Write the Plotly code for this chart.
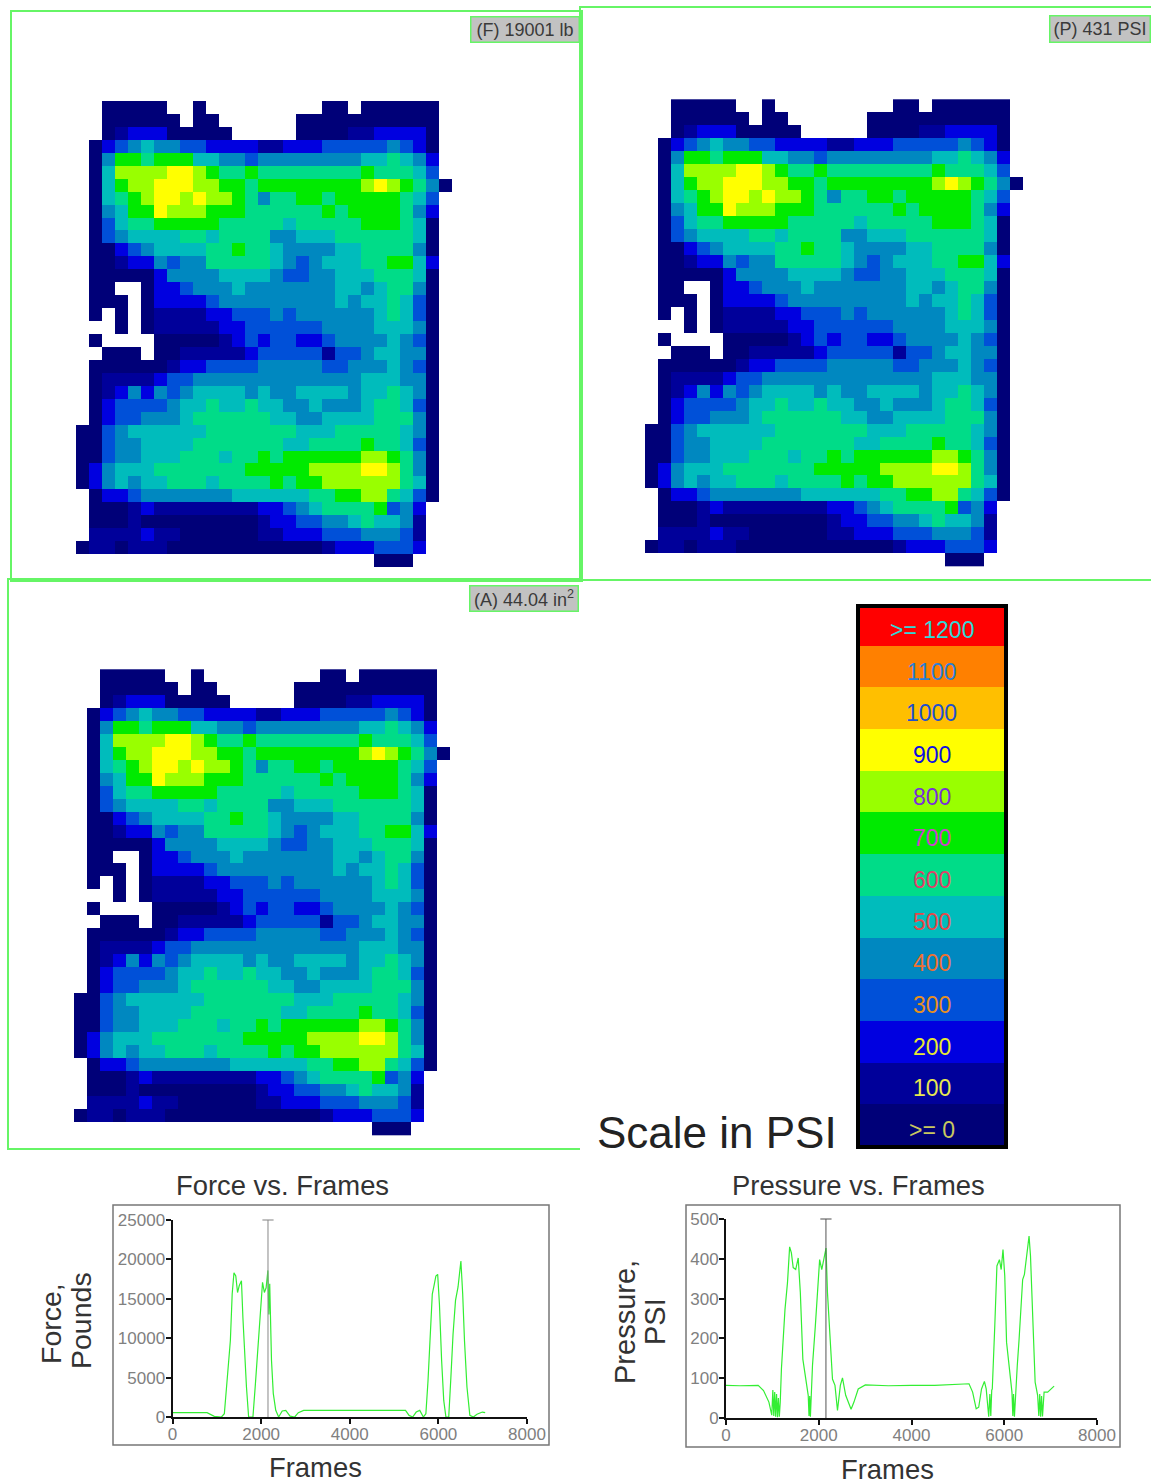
import plotly.graph_objects as go

W, H = 1151, 1484

# ---------- data ----------
# pressure map: one character per sensel, the digit is the scale band, "." is unloaded
pressure_rows = [
    "..00000..0.........00.000000.",
    "..000000.00......00000000000.",
    "..012220" "0000" "....." "0000" "11" "2222" "0.",
    ".0" "2" "3" "4" "5" "44" "33" "2222" "11" "222" "33333" "4" "3" "2" "0" ".",
    ".0" "4" "77" "6" "777" "55" "44" "3" "44444444" "55" "6" "5" "4" "2" ".",
    ".0" "5" "8888" "99" "8" "7" "66" "7" "66666666" "7" "666" "5" "3" ".",
    ".0" "5" "7" "88" "999" "88" "77" "6" "77777777" "8" "9" "8" "7" "6" "4" "0",
    ".0" "5" "6" "7" "8" "99" "8" "9" "88" "7" "6" "4" "66" "77" "6" "77777" "6" "5" "3" ".",
    ".0" "4" "5" "77" "9" "888" "777" "666666" "7" "6" "7777" "6" "4" "2" ".",
    ".0" "3" "5" "66" "77777" "66666" "5" "66666" "777" "6" "5" "0" ".",
    ".0" "3" "4" "5555" "66" "5" "6666" "44" "555" "666666" "5" "0" ".",
    ".00" "2" "3" "4" "5555" "66" "7" "66" "5" "4" "444" "55" "6666" "4" "0" ".",
    ".00" "1" "22" "4" "3" "44" "66666" "5" "4" "3" "4" "555" "66" "77" "5" "2" ".",
    ".00000" "2" "4444" "5555" "4" "33" "44" "555" "666" "5" "0" ".",
    ".00" ".." "0" "22" "3" "444" "5" "4444444" "55" "4" "5" "66" "4" "0" ".",
    ".000" "." "0" "2222" "3" "444444444" "5" "4" "55" "6" "5" "3" "0" ".",
    ".0" "." "0" "." "0" "1111" "22" "333" "4" "3" "444444" "5" "6" "5" "3" "0" ".",
    "..." "0" "." "0" "11111" "22" "333333" "4444" "555" "4" "0" ".",
    ".0" "...." "00000" "1" "2" "3" "2" "33" "22" "3" "4444" "5" "4" "3" "0" ".",
    ".." "000" "." "00" "11111" "2" "33333" "1" "33" "4" "55" "44" "0" ".",
    ".000000" "1" "22" "3333" "44444" "33" "444" "5" "4" "3" "0" ".",
    ".0" "1111" "2" "33" "4444444444444" "555" "44" "0" ".",
    ".0" "1" "2" "4" "2" "4" "3" "4" "5555" "4" "5" "44" "5555" "4" "55" "6" "5" "4" "0" ".",
    ".0" "2" "3333" "4" "55" "6" "55" "6" "55" "44" "5" "444" "5" "66" "5" "3" "0" ".",
    ".0" "2" "33" "444" "5" "666666" "55" "44" "5555" "666" "4" "0" ".",
    "00" "3" "4" "555555" "6666666" "555" "66666" "5" "4" "0" ".",
    "00" "3" "44" "5555" "6666666" "55" "6666" "7" "66" "5" "3" "0" ".",
    "00" "3" "44" "555" "666" "5" "66" "7" "6" "777777" "88" "7" "6" "4" "0" ".",
    "0" "2" "4" "555" "6666666" "77777" "8888" "99" "8" "6" "4" "0" ".",
    "0" "2" "4" "5" "4" "55" "666" "5" "6666" "7" "6" "77" "888888" "6" "5" "0" ".",
    ".0" "22" "3" "4444444" "555555" "66" "77" "88" "6" "5" "3" "0" ".",
    ".000" "1" "2" "11111111" "22" "3" "4" "5" "6666" "7" "3" "4" "2" "..",
    ".000" "1" "000000000" "1" "22" "33" "44" "5" "6" "55" "4" "1" "..",
    ".111" "1" "2" "11" "000000" "11" "222" "333" "444" "3" "1" "..",
    "0" "11" "0" "111" "000000000000" "1" "222" "333" "2" "..",
    "......................." "000" "...",
]

scale_labels = [">= 0", "100", "200", "300", "400", "500", "600", "700",
                "800", "900", "1000", "1100", ">= 1200"]
scale_colors = ["#000078", "#00009a", "#0000e0", "#0050d8", "#0088c0", "#00bcbc",
                "#00dc88", "#00ea00", "#99ff00", "#ffff00", "#ffbf00", "#ff8000", "#ff0000"]
scale_label_colors = ["#c8c860", "#e8e850", "#e8e830", "#e89020", "#f07030", "#e84848",
                      "#e0406a", "#d040d0", "#7a30d8", "#1010e0", "#2050d0", "#2a7fd8", "#30d8d8"]

force_frames = [0, 300, 780, 943, 1105, 1170, 1225, 1306, 1347, 1387, 1428, 1468, 1508, 1556,
                1589, 1629, 1669, 1718, 1815, 1871, 1928, 1992, 2032, 2073, 2113, 2153, 2175,
                2194, 2234, 2274, 2330, 2395, 2476, 2556, 2653, 2758, 2839, 2960, 4000, 5258,
                5339, 5420, 5500, 5580, 5661, 5718, 5766, 5823, 5863, 5903, 5944, 5984, 6024,
                6073, 6121, 6170, 6234, 6282, 6331, 6387, 6444, 6508, 6549, 6589, 6645, 6710,
                6790, 6871, 6992, 7056]
force_pounds = [550, 560, 550, 85, 0, 420, 3800, 9700, 15600, 18300, 17900, 15800, 16700, 17300,
                12600, 7600, 3800, 0, 0, 4200, 8900, 15200, 17100, 15800, 16400, 18600, 13000,
                16900, 7200, 3000, 850, 0, 760, 840, 100, 0, 550, 840, 840, 840,
                200, 0, 630, 840, 0, 420, 4600, 11400, 15600, 16700, 17900, 18100, 14300,
                7200, 2100, 0, 0, 5000, 10500, 14800, 16500, 19800, 15600, 9700, 3800, 200,
                0, 340, 630, 550]

pressure_frames = [0, 300, 694, 809, 925, 987, 1010, 1030, 1050, 1070, 1090, 1110, 1130, 1150, 1170,
                   1195, 1272, 1326, 1372, 1410, 1449, 1503, 1557, 1603, 1657, 1734, 1773, 1790,
                   1805, 1820, 1835, 1865, 1927, 1989, 2019, 2065, 2111, 2157, 2188, 2234, 2296,
                   2350, 2404, 2466, 2512, 2581, 2697, 2759, 2851, 3005, 3500, 4000, 4500, 5240,
                   5318, 5395, 5449, 5510, 5572, 5611, 5665, 5690, 5710, 5730, 5742, 5796, 5842,
                   5896, 5934, 5973, 6011, 6050, 6127, 6166, 6185, 6200, 6220, 6240, 6281, 6320,
                   6397, 6435, 6489, 6535, 6566, 6612, 6666, 6720, 6745, 6765, 6785, 6805, 6825,
                   6859, 6936, 7075]
pressure_psi = [82, 81, 82, 69, 40, 7, 70, 5, 65, 3, 60, 2, 50, 3, 40,
                123, 273, 340, 430, 415, 378, 373, 402, 315, 148, 82, 57, 5,
                55, 3, 50, 132, 232, 357, 398, 373, 402, 427, 315, 232, 98,
                82, 19, 82, 101, 57, 22, 40, 73, 83, 81, 82, 82, 86,
                65, 23, 27, 73, 92, 73, 3, 60, 5, 70, 73, 232, 382,
                398, 373, 423, 357, 190, 98, 65, 5, 60, 3, 55, 132, 198,
                348, 361, 407, 457, 407, 257, 90, 57, 5, 60, 3, 55, 4,
                65, 65, 80]

cursor_frame = 2155
force_ticks = [0, 5000, 10000, 15000, 20000, 25000]
pressure_ticks = [0, 100, 200, 300, 400, 500]
frame_ticks = [0, 2000, 4000, 6000, 8000]

# ---------- helpers ----------
def px(x):
    return x / W

def py(y):
    return 1 - y / H

def dom_x(a, b):
    return [px(a), px(b)]

def dom_y(top, bottom):
    return [py(bottom), py(top)]

levels = [[(None if c == "." else int(c)) for c in row] for row in pressure_rows]
n = len(scale_colors)
colorscale = []
for i, c in enumerate(scale_colors):
    colorscale += [[i / n, c], [(i + 1) / n, c]]

TEXT = "Liberation Sans"
GREEN = "#66f566"
fig = go.Figure()
annotations = []

# (frame left, right, top, bottom, cell origin x, y, cell w, h)
panels = [
    (12, 581, 12, 580, 76, 101, 12.96, 12.94),
    (581, 1151, 8, 579, 645, 99.3, 13.03, 12.98),
    (9, 580, 580, 1148, 74, 669.3, 12.96, 12.94),
]
for i, (l, r, t, b, ox, oy, cw, ch) in enumerate(panels):
    name = str(i + 1) if i else ""
    fig.add_trace(go.Heatmap(z=levels, colorscale=colorscale, zmin=-0.5, zmax=n - 0.5,
                             showscale=False, xaxis="x" + name, yaxis="y" + name,
                             hoverongaps=False))
    fig.layout["xaxis" + name] = dict(
        domain=dom_x(l, r), range=[(l - ox) / cw - 0.5, (r - ox) / cw - 0.5], automargin=False,
        showgrid=False, zeroline=False, showticklabels=False, ticks="",
        showline=True, linecolor=GREEN, linewidth=1.5, mirror=True, anchor="y" + name)
    fig.layout["yaxis" + name] = dict(
        domain=dom_y(t, b), range=[(b - oy) / ch - 0.5, (t - oy) / ch - 0.5], automargin=False,
        showgrid=False, zeroline=False, showticklabels=False, ticks="",
        showline=True, linecolor=GREEN, linewidth=1.5, mirror=(i != 2), anchor="x" + name)

# colour scale column
fig.add_trace(go.Heatmap(z=[[i] for i in range(n)], colorscale=colorscale, zmin=-0.5, zmax=n - 0.5,
                         showscale=False, xaxis="x4", yaxis="y4"))
band = 41.7
fig.layout.xaxis4 = dict(domain=dom_x(860, 1004), range=[-0.5, 0.5], showticklabels=False, ticks="",
                         showgrid=False, zeroline=False, showline=True, linecolor="black", automargin=False,
                         linewidth=4, mirror=True, anchor="y4")
fig.layout.yaxis4 = dict(domain=dom_y(608, 1145), range=[-0.5 + 1 / band, 12.5 - 4 / band], automargin=False,
                         showticklabels=False, ticks="", showgrid=False, zeroline=False,
                         showline=True, linecolor="black", linewidth=4, mirror=True, anchor="x4")
for i, lab in enumerate(scale_labels):
    annotations.append(dict(x=0, y=i, xref="x4", yref="y4", text=lab, showarrow=False, yshift=-5,
                            font=dict(family=TEXT, size=23,
                                      color=scale_label_colors[i])))

# line charts
charts = [
    ("5", force_frames, force_pounds, force_ticks, 25000, (172.5, 527, 1220, 1417), "#888888"),
    ("6", pressure_frames, pressure_psi, pressure_ticks, 500, (726, 1097, 1219, 1418), "#555555"),
]
for name, xs, ys, yticks, ymax, (l, r, t, b), cursor_col in charts:
    fig.add_trace(go.Scatter(x=xs, y=ys, mode="lines", line=dict(color="#33ee33", width=1.2),
                             xaxis="x" + name, yaxis="y" + name, cliponaxis=False))
    fig.add_trace(go.Scatter(x=[cursor_frame, cursor_frame], y=[0, ymax], mode="lines+markers",
                             line=dict(color=cursor_col, width=1),
                             marker=dict(symbol="line-ew", size=[0.1, 8],
                                         line=dict(color=cursor_col, width=1.5)),
                             xaxis="x" + name, yaxis="y" + name, cliponaxis=False))
    tickfont = dict(family=TEXT, size=17, color="#808080")
    fig.layout["xaxis" + name] = dict(
        domain=dom_x(l, r), range=[0, 8000], tickvals=frame_ticks, tickformat="d", ticks="outside", ticklen=5,
        tickwidth=2, tickcolor="#111111", showgrid=False, zeroline=False, showline=True, linecolor="#111111",
        linewidth=2, tickfont=tickfont, anchor="y" + name, automargin=False, ticklabelstandoff=-4)
    fig.layout["yaxis" + name] = dict(
        domain=dom_y(t, b), range=[0, ymax], tickvals=yticks, tickformat="d", ticks="outside", ticklen=5,
        tickwidth=2, tickcolor="#111111", showgrid=False, zeroline=False, showline=True, linecolor="#111111",
        linewidth=2, tickfont=tickfont, anchor="x" + name, automargin=False, ticklabelstandoff=-3)

# chart frames
shapes = []
for (l, r, t, b) in [(113, 549, 1205, 1445), (686, 1120, 1205, 1447)]:
    shapes.append(dict(type="rect", xref="paper", yref="paper", x0=px(l), x1=px(r), y0=py(b), y1=py(t),
                       line=dict(color="#777777", width=1.5)))

def label(text, x, y, size, color="#333333", angle=0):
    annotations.append(dict(x=px(x), y=py(y), xref="paper", yref="paper", text=text, showarrow=False,
                            textangle=angle, font=dict(family=TEXT, size=size, color=color),
                            xanchor="center", yanchor="middle"))

label("Force vs. Frames", 282, 1185, 27.4)
label("Pressure vs. Frames", 858, 1185, 27.4)
label("Frames", 315, 1467, 27.4)
label("Frames", 887, 1469, 27.4)
label("Force,", 51, 1324, 28.5, angle=-90)
label("Pounds", 81, 1321, 28.5, angle=-90)
label("Pressure,", 625, 1322, 29, angle=-90)
label("PSI", 655, 1322, 29, angle=-90)
label("Scale in PSI", 717, 1132, 44, color="#222222")

# readout badges
for text, l, r, t, b in [("(F) 19001 lb", 469, 580, 15, 43),
                         ("(P) 431 PSI", 1048, 1151, 14, 43),
                         ("(A) 44.04 in<sup>2</sup>", 468, 579, 584, 612)]:
    annotations.append(dict(x=px((l + r) / 2), y=py((t + b) / 2), xref="paper", yref="paper", text=text,
                            xanchor="center", yanchor="middle",
                            showarrow=False, width=r - l - 6, height=b - t - 6, bgcolor="#c2c2c2",
                            bordercolor=GREEN, borderwidth=1.5, borderpad=1,
                            font=dict(family=TEXT, size=18, color="#3a3a3a")))

fig.update_layout(width=W, height=H, margin=dict(l=0, r=0, t=0, b=0), autosize=False,
                  paper_bgcolor="white", plot_bgcolor="rgba(0,0,0,0)", showlegend=False,
                  annotations=annotations, shapes=shapes)
fig.write_html("out.html", config={"displayModeBar": False},
               post_script="document.body.style.margin='0';document.body.style.overflow='hidden';")
